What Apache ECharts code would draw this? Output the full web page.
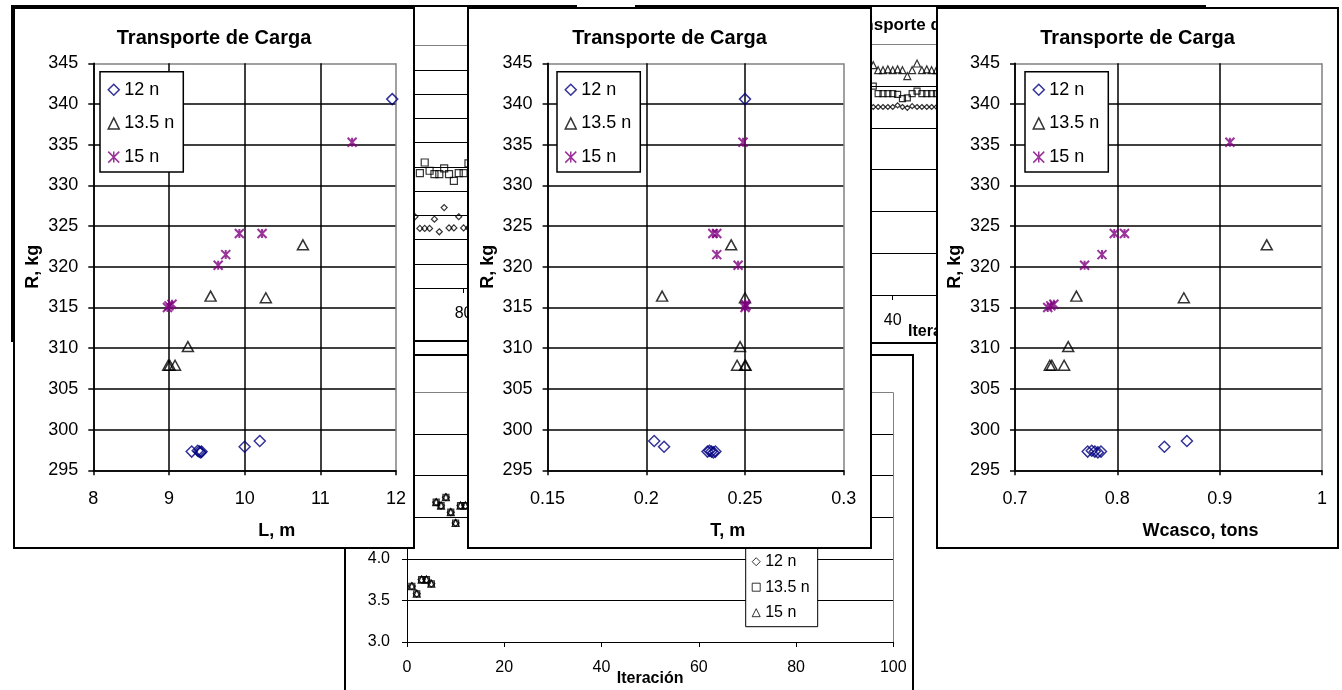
<!DOCTYPE html>
<html><head><meta charset="utf-8">
<script src="https://cdn.jsdelivr.net/npm/echarts@6/dist/echarts.min.js"></script>
<style>
html,body{margin:0;padding:0;background:#fff;width:1342px;height:690px;overflow:hidden;position:relative}
.panel{position:absolute;box-sizing:border-box;border:2px solid #000;background:#fff;overflow:hidden}
</style></head><body>
<script>
// ---------------- DATA ----------------
const SERIES_NAMES = ['12 n', '13.5 n', '15 n'];
const R_TICKS = {min: 295, max: 345, interval: 5};

// Foreground charts: R (kg) against L, T and Wcasco
const R_12  = [340.6, 298.6, 297.9, 297.3, 297.4, 297.3, 297.2, 297.3];
const L_12  = [11.95, 10.2, 10.0, 9.3, 9.38, 9.4, 9.42, 9.43];
const T_12  = [0.25, 0.204, 0.209, 0.231, 0.232, 0.233, 0.234, 0.235];
const W_12  = [null, 0.868, 0.846, 0.771, 0.775, 0.778, 0.781, 0.784];

const R_135 = [322.7, 316.4, 316.2, 310.2, 307.9, 307.9, 307.9];
const L_135 = [10.77, 9.55, 10.28, 9.25, 8.99, 9.01, 9.08];
const T_135 = [0.243, 0.208, 0.25, 0.2475, 0.25, 0.246, 0.2503];
const W_135 = [0.946, 0.760, 0.865, 0.752, 0.734, 0.736, 0.748];

const R_15  = [335.3, 324.1, 324.1, 321.5, 320.2, 315.0, 315.2, 315.4];
const L_15  = [11.42, 9.93, 10.23, 9.75, 9.65, 8.98, 9.0, 9.04];
const T_15  = [0.249, 0.2337, 0.2357, 0.2357, 0.2465, 0.25, 0.2505, 0.2502];
const W_15  = [0.910, 0.797, 0.807, 0.785, 0.768, 0.732, 0.735, 0.738];

// Background chart A (against Iteración) - visible part only
const A_IT_12  = [70, 71, 72, 73, 74, 75, 76, 77, 78, 79, 80, 81];
const A_12     = [309.7, 307.3, 307.3, 307.3, 309.2, 306.6, 311.6, 307.4, 307.4, 309.7, 307.4, 307.4];
const A_IT_135 = [71, 72, 73, 74, 75, 76, 77, 78, 79, 80, 81];
const A_135    = [318.7, 320.9, 319.2, 318.5, 318.5, 319.7, 318.5, 317.1, 318.7, 318.7, 320.7];

// Background chart B (against Iteración) - visible part only
const B_IT  = [36, 37, 38, 39, 40, 41, 42, 43, 44, 45, 46, 47, 48, 49];
const B_12  = [5.25, 5.25, 5.25, 5.25, 5.25, 5.27, 5.25, 5.24, 5.26, 5.25, 5.25, 5.25, 5.25, 5.25];
const B_135 = [5.50, 5.41, 5.41, 5.41, 5.41, 5.40, 5.35, 5.36, 5.41, 5.44, 5.41, 5.41, 5.41, 5.41];
const B_15  = [5.75, 5.69, 5.69, 5.70, 5.69, 5.70, 5.69, 5.62, 5.69, 5.77, 5.69, 5.70, 5.69, 5.69];

// Background chart C (against Iteración) - visible part only
const C_IT  = [1, 2, 3, 4, 5, 6, 7, 8, 9, 10, 11, 12];
const C_12  = [3.67, 3.58, 3.75, 3.75, 3.70, 4.68, 4.64, 4.74, 4.56, 4.43, 4.64, 4.64];
const C_135 = [3.67, 3.58, 3.75, 3.75, 3.70, 4.68, 4.64, 4.74, 4.56, 4.43, 4.64, 4.64];
const C_15  = [3.67, 3.58, 3.75, 3.75, 3.70, 4.68, 4.64, 4.74, 4.56, 4.43, 4.64, 4.64];

// ---------------- LAYOUT / STYLE ----------------
const FONT = '"Liberation Sans", Arial, Helvetica, sans-serif';
const TITLE = 'Transporte de Carga';
const GRAY = '#808080';
const LAYOUT = {
  A:  {box:[11,5,566,337],  plot:[74.8,45.7,560.8,288],   titleTop:16.5, z:1},
  B:  {box:[635,5,571,339], plot:[698.2,44.3,1184.5,295], titleTop:16.5, z:2},
  C:  {box:[344,354,570,340], plot:[407,392.4,893.3,642], titleTop:365.5, z:3, legend:[745.7,543.7]},
  P1: {box:[13,7,402,542],  plot:[93.3,63.3,396,470.3],   legend:[100,71.7], z:4},
  P2: {box:[467,7,405,542], plot:[547.6,63.3,843.7,470.3], legend:[557,71.7], z:5},
  P3: {box:[936,7,403,542], plot:[1015,63.3,1322,470.3],  legend:[1025,71.7], z:6}
};
const STAR = 'path://M0,0L10,10M10,0L0,10M5,0L5,10';

function pairs(xs, ys){ const o=[]; for(let i=0;i<ys.length;i++){ if(xs[i]!=null && ys[i]!=null) o.push([xs[i], ys[i]]); } return o; }
function lineColors(n, lastColor, otherColor){ return Array.from({length:n}, (_,i)=> i===n-1 ? lastColor : otherColor); }

function makeChart(key){
  const L = LAYOUT[key];
  const d = document.createElement('div');
  d.className = 'panel';
  d.style.left = L.box[0]+'px'; d.style.top = L.box[1]+'px';
  d.style.width = L.box[2]+'px'; d.style.height = L.box[3]+'px';
  d.style.zIndex = L.z;
  document.body.appendChild(d);
  return {chart: echarts.init(d, null, {renderer:'canvas'}), ox: L.box[0]+2, oy: L.box[1]+2, L};
}
function gridOf(c){
  const p = c.L.plot;
  return {left:p[0]-c.ox, top:p[1]-c.oy, width:p[2]-p[0], height:p[3]-p[1], containLabel:false, outerBoundsMode:'none', show:false};
}

function fgOption(c, xName, xMin, xMax, xInt, x12, x135, x15){
  const nX = Math.round((xMax-xMin)/xInt)+1;
  const nY = Math.round((R_TICKS.max-R_TICKS.min)/R_TICKS.interval)+1;
  const lbl = {color:'#000', fontSize:18, fontFamily:FONT};
  const nameStyle = {color:'#000', fontSize:18, fontFamily:FONT, fontWeight:'bold'};
  return {
    animation:false,
    textStyle:{fontFamily:FONT},
    title:{text:TITLE, left:'center', top:28-c.oy, padding:0,
      textStyle:{fontFamily:FONT, fontSize:20, fontWeight:'bold', color:'#000'}},
    grid: gridOf(c),
    xAxis:{type:'value', min:xMin, max:xMax, interval:xInt,
      name:xName, nameLocation:'middle', nameGap:52, nameMoveOverlap:false,
      nameTextStyle:Object.assign({padding:[0,0,0,64]}, nameStyle),
      axisLine:{show:true, onZero:false, lineStyle:{color:'#000', width:1.5}},
      axisTick:{show:true, inside:false, length:5, lineStyle:{color:'#000', width:1.5}},
      axisLabel:Object.assign({margin:20}, lbl),
      splitLine:{show:true, lineStyle:{color:lineColors(nX, GRAY, '#000'), width:1.5}}},
    yAxis:{type:'value', min:R_TICKS.min, max:R_TICKS.max, interval:R_TICKS.interval,
      name:'R, kg', nameLocation:'middle', nameGap:51, nameMoveOverlap:false,
      nameTextStyle:nameStyle,
      axisLine:{show:true, onZero:false, lineStyle:{color:'#000', width:1.5}},
      axisTick:{show:true, inside:false, length:5, lineStyle:{color:'#000', width:1.5}},
      axisLabel:Object.assign({margin:15}, lbl),
      splitLine:{show:true, lineStyle:{color:lineColors(nY, GRAY, '#000'), width:1.5}}},
    legend:{orient:'vertical', left:c.L.legend[0]-c.ox, top:c.L.legend[1]-c.oy,
      padding:[9,9,6,7.5], itemGap:15.7, itemWidth:11, itemHeight:11,
      backgroundColor:'#fff', borderColor:'#000', borderWidth:1.5, borderRadius:0,
      itemStyle:{borderWidth:1.5}, selectedMode:false,
      textStyle:{color:'#000', fontSize:18, fontFamily:FONT},
      data:SERIES_NAMES},
    series:[
      {name:SERIES_NAMES[0], type:'scatter', clip:true, silent:true, symbol:'diamond', symbolSize:[11,11],
        itemStyle:{color:'transparent', borderColor:'#000080', borderWidth:1.5}, data:pairs(x12, R_12)},
      {name:SERIES_NAMES[1], type:'scatter', clip:true, silent:true, symbol:'triangle', symbolSize:[11,10],
        itemStyle:{color:'transparent', borderColor:'#000', borderWidth:1.5}, data:pairs(x135, R_135)},
      {name:SERIES_NAMES[2], type:'scatter', clip:true, silent:true, symbol:STAR, symbolSize:[9,9],
        itemStyle:{color:'transparent', borderColor:'#800080', borderWidth:2}, data:pairs(x15, R_15)}
    ]
  };
}

function bgOption(c, yMin, yMax, yInt, yDec, series, withLegend){
  const nX = 6, nY = Math.round((yMax-yMin)/yInt)+1;
  const lbl = {color:'#000', fontSize:16, fontFamily:FONT};
  const opt = {
    animation:false,
    textStyle:{fontFamily:FONT},
    title:{text:TITLE, left:'center', top:c.L.titleTop-c.oy, padding:0,
      textStyle:{fontFamily:FONT, fontSize:17, fontWeight:'bold', color:'#000'}},
    grid: gridOf(c),
    xAxis:{type:'value', min:0, max:100, interval:20,
      name:'Iteración', nameLocation:'middle', nameGap:29, nameMoveOverlap:false,
      nameTextStyle:{color:'#000', fontSize:16, fontFamily:FONT, fontWeight:'bold'},
      axisLine:{show:true, onZero:false, lineStyle:{color:'#000', width:1}},
      axisTick:{show:true, inside:false, length:5, lineStyle:{color:'#000', width:1}},
      axisLabel:Object.assign({margin:18}, lbl),
      splitLine:{show:true, lineStyle:{color:lineColors(nX, GRAY, 'transparent'), width:1}}},
    yAxis:{type:'value', min:yMin, max:yMax, interval:yInt,
      axisLine:{show:true, onZero:false, lineStyle:{color:'#000', width:1}},
      axisTick:{show:true, inside:false, length:5, lineStyle:{color:'#000', width:1}},
      axisLabel:Object.assign({margin:17, formatter:v=>v.toFixed(yDec)}, lbl),
      splitLine:{show:true, lineStyle:{color:lineColors(nY, GRAY, '#000'), width:1}}},
    series: series
  };
  if (withLegend) {
    opt.legend = {orient:'vertical', left:c.L.legend[0]-c.ox, top:c.L.legend[1]-c.oy,
      padding:[10,8,6,6], itemGap:9.5, itemWidth:8, itemHeight:8,
      backgroundColor:'#fff', borderColor:'#000', borderWidth:1, borderRadius:0,
      itemStyle:{borderWidth:1}, selectedMode:false,
      textStyle:{color:'#000', fontSize:16, fontFamily:FONT}, data:SERIES_NAMES};
  }
  return opt;
}
function bgSeries(name, symbol, size, xs, ys){
  return {name, type:'scatter', clip:true, silent:true, symbol, symbolSize:size,
    itemStyle:{color:'transparent', borderColor:'#000', borderWidth:1.2}, data:pairs(xs, ys)};
}

// ---------------- BUILD ----------------
const cA = makeChart('A');
cA.chart.setOption(bgOption(cA, R_TICKS.min, R_TICKS.max, R_TICKS.interval, 0, [
  bgSeries(SERIES_NAMES[0], 'diamond', [6,6], A_IT_12, A_12),
  bgSeries(SERIES_NAMES[1], 'rect', [7,7], A_IT_135, A_135)
], false));

const cB = makeChart('B');
cB.chart.setOption(bgOption(cB, 3, 6, 0.5, 1, [
  bgSeries(SERIES_NAMES[0], 'diamond', [5,5], B_IT, B_12),
  bgSeries(SERIES_NAMES[1], 'rect', [6,6], B_IT, B_135),
  bgSeries(SERIES_NAMES[2], 'triangle', [7,7], B_IT, B_15)
], false));

const cC = makeChart('C');
cC.chart.setOption(bgOption(cC, 3, 6, 0.5, 1, [
  bgSeries(SERIES_NAMES[0], 'diamond', [7,7], C_IT, C_12),
  bgSeries(SERIES_NAMES[1], 'rect', [6,6], C_IT, C_135),
  bgSeries(SERIES_NAMES[2], 'triangle', [7,7], C_IT, C_15)
], true));

const c1 = makeChart('P1');
c1.chart.setOption(fgOption(c1, 'L, m', 8, 12, 1, L_12, L_135, L_15));
const c2 = makeChart('P2');
c2.chart.setOption(fgOption(c2, 'T, m', 0.15, 0.3, 0.05, T_12, T_135, T_15));
const c3 = makeChart('P3');
c3.chart.setOption(fgOption(c3, 'Wcasco, tons', 0.7, 1, 0.1, W_12, W_135, W_15));
</script>
</body></html>
